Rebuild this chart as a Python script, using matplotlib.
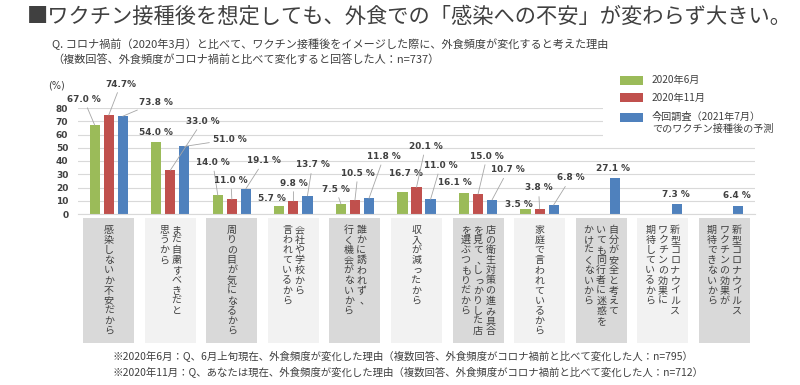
import numpy as np
import matplotlib
matplotlib.use("Agg")
import matplotlib.pyplot as plt
from matplotlib.patches import Rectangle
from matplotlib.transforms import blended_transform_factory

plt.rcParams['font.family'] = ['Noto Sans CJK JP', 'DejaVu Sans']

# data
categories = [
    ["感染しないか不安だから"],
    ["まだ自粛すべきだと", "思うから"],
    ["周りの目が気になるから"],
    ["会社や学校から", "言われているから"],
    ["誰かに誘われず、", "行く機会がないから"],
    ["収入が減ったから"],
    ["店の衛生対策の進み具合", "を見て、しっかりした店", "を選ぶつもりだから"],
    ["家庭で言われているから"],
    ["自分が安全と考えて", "いても同行者に迷惑を", "かけたくないから"],
    ["新型コロナウイルス", "ワクチンの効果に", "期待しているから"],
    ["新型コロナウイルス", "ワクチンの効果が", "期待できないから"],
]
series_names = ["2020年6月", "2020年11月", "今回調査（2021年7月）\nでのワクチン接種後の予測"]
jun2020 = [67.0, 54.0, 14.0, 5.7, 7.5, 16.7, 16.1, 3.5, None, None, None]
nov2020 = [74.7, 33.0, 11.0, 9.8, 10.5, 20.1, 15.0, 3.8, None, None, None]
jul2021 = [73.8, 51.0, 19.1, 13.7, 11.8, 11.0, 10.7, 6.8, 27.1, 7.3, 6.4]
yticks = [0, 10, 20, 30, 40, 50, 60, 70, 80]

title = "■ワクチン接種後を想定しても、外食での「感染への不安」が変わらず大きい。"
subtitle = ["Q. コロナ禍前（2020年3月）と比べて、ワクチン接種後をイメージした際に、外食頻度が変化すると考えた理由",
            "（複数回答、外食頻度がコロナ禍前と比べて変化すると回答した人：n=737）"]
notes = ["※2020年6月：Q、6月上旬現在、外食頻度が変化した理由（複数回答、外食頻度がコロナ禍前と比べて変化した人：n=795）",
         "※2020年11月：Q、あなたは現在、外食頻度が変化した理由（複数回答、外食頻度がコロナ禍前と比べて変化した人：n=712）"]

colors = ['#9bbb59', '#c0504d', '#4f81bd']
txt = '#404040'

# label placement relative to bar top (pixels dx, dy, leader line?)
label_pos = [
    [(-11, 26, 1), (12, 31, 1), (33, 14, 1)],
    [(0, 10, 0), (32, 49, 1), (46, 7, 1)],
    [(-5, 33, 1), (-1, 19, 1), (18, 28, 1)],
    [(-7, 8, 0), (0, 18, 1), (5, 31, 1)],
    [(-5, 15, 1), (3, 27, 1), (15, 42, 1)],
    [(3, 18, 0), (9, 41, 1), (10, 34, 1)],
    [(-9, 10, 0), (9, 38, 1), (16, 30, 1)],
    [(-7, 5, 0), (-1, 21, 1), (17, 27, 1)],
    [None, None, (-2, 10, 0)],
    [None, None, (-1, 10, 0)],
    [None, None, (-1, 10, 0)],
]


def fx(px):
    return px / 800


def fy(py):
    return 1 - py / 385


fig = plt.figure(figsize=(8, 3.85), dpi=100)
ax = fig.add_axes([fx(78), fy(214), 677 / 800, 106 / 385])

x = np.arange(len(categories))
bw = 0.165
off = 0.228
all_series = [np.array(s, dtype=float) for s in (jun2020, nov2020, jul2021)]
for k, vals in enumerate(all_series):
    ax.bar(x + (k - 1) * off, vals, bw, color=colors[k], zorder=2)

for i in range(len(categories)):
    for k, vals in enumerate(all_series):
        v = vals[i]
        if np.isnan(v):
            continue
        dx, dy, leader = label_pos[i][k]
        s = f"{v:.1f} %"
        if i == 0 and k == 1:
            s = f"{v:.1f}%"
        ap = dict(arrowstyle='-', color='#a6a6a6', lw=0.6, shrinkA=1, shrinkB=0) if leader else None
        ax.annotate(s, xy=(x[i] + (k - 1) * off, v), xytext=(dx, dy),
                    textcoords='offset pixels', ha='center', va='center',
                    fontsize=6.4, fontweight='bold', family='DejaVu Sans',
                    color=txt, arrowprops=ap, annotation_clip=False, zorder=4)

ax.set_xlim(-0.5, 10.5)
ax.set_ylim(0, 80)
ax.set_yticks(yticks)
ax.set_xticks([])
ax.yaxis.grid(True, color='#d9d9d9', lw=0.8)
ax.set_axisbelow(True)
for sp in ['top', 'right', 'left']:
    ax.spines[sp].set_visible(False)
ax.spines['bottom'].set_color('#d9d9d9')
ax.tick_params(axis='y', length=0, pad=7)
for lbl in ax.get_yticklabels():
    lbl.set_fontfamily('DejaVu Sans')
    lbl.set_fontweight('bold')
    lbl.set_fontsize(6.5)
    lbl.set_color(txt)

fig.text(fx(57), fy(86), "(%)", ha='center', va='center', fontsize=7,
         family='DejaVu Sans', color=txt)

# category boxes with vertical text
tr = blended_transform_factory(ax.transData, fig.transFigure)
box_w = 51 / 61.6
for i, cols in enumerate(categories):
    fc = '#d9d9d9' if i % 2 == 0 else '#f2f2f2'
    ax.add_patch(Rectangle((x[i] - box_w / 2, fy(343)), box_w, 125 / 385,
                           transform=tr, facecolor=fc, edgecolor='none', clip_on=False))
    n = len(cols)
    for j, col in enumerate(cols):
        cx = x[i] + ((n - 1) / 2 - j) * 12.5 / 61.6
        for c, ch in enumerate(col):
            px_y = 230 + c * 10.1
            cxx = cx
            if ch in "、。":
                cxx += 3 / 61.6
            elif ch in "っゃゅょ":
                cxx += 1 / 61.6
            ax.text(cxx, fy(px_y), ch, transform=tr, ha='center', va='center',
                    fontsize=7.2, color=txt, clip_on=False)

# legend
fig.add_artist(Rectangle((fx(603), fy(142)), 157 / 800, 74 / 385,
                         transform=fig.transFigure, facecolor='white', edgecolor='none'))
leg_y = [80, 98, 117]
for k, name in enumerate(series_names):
    fig.add_artist(Rectangle((fx(620), fy(leg_y[k] + 4.5)), 23 / 800, 9 / 385,
                             transform=fig.transFigure, facecolor=colors[k], edgecolor='none'))
    for m, line in enumerate(name.split("\n")):
        fig.text(fx(652), fy(leg_y[k] + m * 12), line, ha='left', va='center',
                 fontsize=7.3, color=txt)

# titles and notes
fig.text(fx(27), fy(17), title, ha='left', va='center', fontsize=15.3, color=txt)
fig.text(fx(52), fy(44), subtitle[0], ha='left', va='center', fontsize=8, color=txt)
fig.text(fx(52), fy(60), subtitle[1], ha='left', va='center', fontsize=8, color=txt)
fig.text(fx(113), fy(357), notes[0], ha='left', va='center', fontsize=7.5, color=txt)
fig.text(fx(113), fy(373), notes[1], ha='left', va='center', fontsize=7.5, color=txt)

fig.savefig("out.png", dpi=100, facecolor='white')
